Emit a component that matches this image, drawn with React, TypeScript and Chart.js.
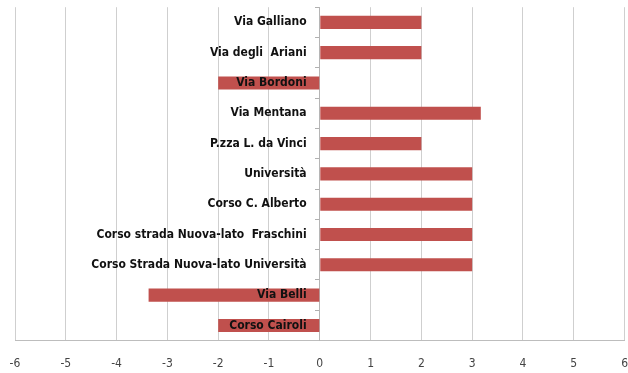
import React, { useEffect, useRef } from "react";
import { Chart, registerables } from "chart.js";

Chart.register(...registerables);

const categories = [
  "Via Galliano",
  "Via degli  Ariani",
  "Via Bordoni",
  "Via Mentana",
  "P.zza L. da Vinci",
  "Università",
  "Corso C. Alberto",
  "Corso strada Nuova-lato  Fraschini",
  "Corso Strada Nuova-lato Università",
  "Via Belli",
  "Corso Cairoli",
];

const values = [2, 2, -2, 3.17, 2, 3, 3, 3, 3, -3.37, -2];

const xTicks = [-6, -5, -4, -3, -2, -1, 0, 1, 2, 3, 4, 5, 6];

export default function App() {
  const ref = useRef<HTMLCanvasElement | null>(null);

  useEffect(() => {
    document.body.style.margin = "0";
    const ctx = ref.current!.getContext("2d")!;
    const chart = new Chart(ctx, {
      type: "bar",
      data: {
        labels: categories,
        datasets: [
          {
            data: values,
            backgroundColor: "#C0504D",
            borderWidth: 0,
            barPercentage: 0.9,
            categoryPercentage: 0.48,
          },
        ],
      },
      options: {
        indexAxis: "y",
        animation: false,
        responsive: false,
        maintainAspectRatio: false,
        layout: { padding: { left: 15, right: 0, top: -8, bottom: 2 } },
        plugins: { legend: { display: false }, tooltip: { enabled: false } },
        scales: {
          x: {
            type: "linear",
            min: xTicks[0],
            max: xTicks[xTicks.length - 1],
            afterBuildTicks: (axis: any) => {
              axis.ticks = xTicks.map((v) => ({ value: v }));
            },
            grid: {
              color: "#cfcfcf",
              lineWidth: 1,
              drawTicks: true,
              tickLength: 16,
              tickColor: "rgba(0,0,0,0)",
            },
            border: { display: true, color: "#bdbdbd" },
            ticks: {
              padding: 0,
              color: "#444",
              font: { family: "'Liberation Sans Narrow', 'DejaVu Sans Condensed', sans-serif", size: 12 },
            },
          },
          y: {
            type: "category",
            position: { x: -0.26 } as any,
            offset: true,
            grid: { display: false },
            border: { display: false },
            ticks: {
              z: 1,
              padding: 0,
              color: "#111",
              autoSkip: false,
              font: {
                family: "'Liberation Sans Narrow', 'DejaVu Sans Condensed', sans-serif",
                size: 12,
                weight: "bold",
              },
            },
          },
          yAxisMarks: {
            type: "category",
            axis: "y",
            position: { x: 0 } as any,
            offset: true,
            grid: {
              offset: true,
              drawOnChartArea: false,
              drawTicks: true,
              tickLength: 4,
              color: "#b0b0b0",
            },
            border: { display: true, color: "#b5b5b5" },
            ticks: { display: false, autoSkip: false },
          },
        },
      },
    });
    return () => chart.destroy();
  }, []);

  return (
    <div style={{ width: 628, height: 373, background: "#fff" }}>
      <canvas ref={ref} width={628} height={373} />
    </div>
  );
}
